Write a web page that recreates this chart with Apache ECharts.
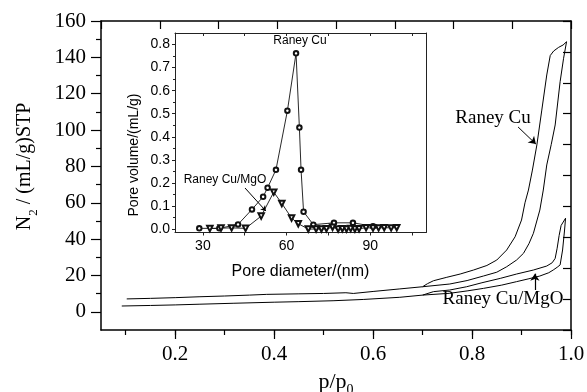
<!DOCTYPE html>
<html>
<head>
<meta charset="utf-8">
<script src="https://cdn.jsdelivr.net/npm/echarts@6/dist/echarts.min.js"></script>
<style>
  html, body { margin: 0; padding: 0; background: #fff; }
  #chart { width: 587px; height: 392px; }
</style>
</head>
<body>
<div id="chart"></div>
<script>
// N2 isotherms, [p/p0, volume mL/g STP]
const cuAdsorption = [
  [0.102, 7.1], [0.15, 7.4], [0.20, 7.8], [0.25, 8.3], [0.30, 8.7], [0.35, 9.2], [0.385, 9.6],
  [0.45, 9.9], [0.50, 10.1], [0.545, 10.5], [0.56, 10.1], [0.60, 11.2], [0.654, 12.6], [0.70, 13.8],
  [0.755, 15.3], [0.79, 17.2], [0.823, 19.7], [0.85, 21.8], [0.87, 24.8], [0.89, 28.5], [0.904, 32.2],
  [0.915, 37.5], [0.924, 43.2], [0.937, 56.0], [0.944, 67.0], [0.951, 80.8], [0.96, 92.0],
  [0.968, 102.8], [0.978, 126.6], [0.985, 139.5], [0.991, 148.6]
];
const cuDesorption = [
  [0.991, 148.6], [0.984, 146.8], [0.975, 145.5], [0.965, 143.5], [0.958, 141.0], [0.951, 130.3],
  [0.941, 111.0], [0.931, 91.8], [0.922, 78.0], [0.914, 67.0], [0.907, 60.0], [0.900, 50.5],
  [0.887, 41.3], [0.870, 34.0], [0.850, 28.5], [0.830, 25.5], [0.803, 23.0], [0.776, 20.8],
  [0.749, 19.0], [0.722, 17.1], [0.710, 15.5], [0.700, 13.8]
];
const mgoAdsorption = [
  [0.092, 3.2], [0.15, 3.5], [0.20, 3.8], [0.25, 4.2], [0.317, 4.7], [0.40, 5.3], [0.45, 5.6],
  [0.519, 6.1], [0.58, 6.8], [0.654, 8.0], [0.70, 9.2], [0.755, 10.2], [0.79, 11.5], [0.823, 12.9],
  [0.86, 14.7], [0.89, 16.6], [0.915, 18.2], [0.937, 19.7], [0.955, 21.5], [0.964, 23.0],
  [0.972, 24.5], [0.978, 25.8], [0.983, 34.0], [0.987, 45.0], [0.989, 51.5]
];
const mgoDesorption = [
  [0.989, 51.5], [0.986, 50.8], [0.980, 47.5], [0.976, 42.0], [0.972, 35.0], [0.968, 29.4],
  [0.962, 27.0], [0.951, 25.2], [0.924, 23.0], [0.890, 20.8], [0.857, 18.4], [0.820, 16.0],
  [0.789, 13.8], [0.755, 12.0], [0.722, 11.1], [0.700, 9.2]
];

// inset: pore size distribution
const cuDiameter = [28.7, 35.9, 42.6, 47.6, 51.6, 53.2, 56.2, 60.3, 63.4, 64.6, 65.2, 66.1, 69.6, 77.0, 83.8, 91.0];
const cuPoreVolume = [0.003, 0.003, 0.02, 0.085, 0.14, 0.179, 0.257, 0.513, 0.762, 0.44, 0.257, 0.075, 0.019, 0.027, 0.027, 0.012];
const mgoDiameter = [32.5, 36.5, 40.3, 45.3, 50.9, 55.4, 58.3, 61.8, 64.2, 67.8, 70.6, 72.5, 74.3, 76.5,
  78.5, 80.0, 81.5, 83.0, 84.5, 86.0, 88.5, 91.0, 93.0, 95.0, 97.5, 99.5];
const mgoPoreVolume = [0.002, 0.004, 0.005, 0.003, 0.056, 0.16, 0.111, 0.048, 0.023, 0.0, 0.0, 0.0, 0.001,
  0.008, 0.0, 0.001, 0.0, 0.002, 0.0, 0.001, 0.006, 0.004, 0.005, 0.006, 0.005, 0.006];

const W = 587, H = 392;
const SERIF = 'Liberation Serif';
const SANS = 'Liberation Sans';

// frames in pixels and the data range they show
const main = { l: 101, r: 571, t: 21, b: 330, x0: 0.05, x1: 1.0, y0: -10, y1: 160 };
const inset = { l: 175, r: 426, t: 33, b: 232.5, x0: 20, x1: 110, y0: -0.015, y1: 0.85 };

function gx(f, v) { return f.l + (v - f.x0) / (f.x1 - f.x0) * (f.r - f.l); }
function gy(f, v) { return f.b - (v - f.y0) / (f.y1 - f.y0) * (f.b - f.t); }
function box(f, xa, xb, ya, yb) {
  return {
    left: gx(f, xa), right: W - gx(f, xb), top: gy(f, yb), bottom: H - gy(f, ya),
    containLabel: false, outerBoundsMode: 'none'
  };
}
function zip(a, b) { return a.map((v, i) => [v, b[i]]); }

const frameLine = { show: true, onZero: false, lineStyle: { color: '#000', width: 1.5 } };
const insetLine = { show: true, onZero: false, lineStyle: { color: '#222', width: 1 } };
const noTick = { show: false };
const hidden = (g) => ({ type: 'value', gridIndex: g, show: false, min: 0, max: 1 });
const tickStyle = { color: '#000', width: 1.2 };

const chart = echarts.init(document.getElementById('chart'));

const option = {
  animation: false,
  backgroundColor: '#fff',
  grid: [
    box(main, 0.05, 1.0, -10, 160),   // 0 main data
    box(main, 0.05, 1.0, 0, 160),     // 1 main y ticks/labels
    box(main, 0.1, 1.0, -10, 160),    // 2 main x minor ticks
    box(main, 0.2, 1.0, -10, 160),    // 3 main x major ticks/labels
    box(inset, 20, 110, -0.015, 0.85),// 4 inset data
    box(inset, 30, 105, -0.015, 0.85),// 5 inset x ticks
    box(inset, 20, 110, 0, 0.8)       // 6 inset y ticks
  ],
  xAxis: [
    { type: 'value', gridIndex: 0, position: 'bottom', min: 0.05, max: 1.0,
      axisLine: frameLine, axisTick: noTick, axisLabel: { show: false }, splitLine: { show: false },
      name: '{b|p/p}{s|0}', nameLocation: 'middle', nameGap: 37,
      nameTextStyle: { rich: {
        b: { fontFamily: SERIF, fontSize: 22, lineHeight: 30, color: '#000' },
        s: { fontFamily: SERIF, fontSize: 14, lineHeight: 14, verticalAlign: 'bottom', color: '#000' }
      } } },
    { type: 'value', gridIndex: 0, position: 'top', min: 0, max: 8, interval: 1,
      axisLine: frameLine, axisTick: { inside: true, length: 8, lineStyle: tickStyle },
      axisLabel: { show: false }, splitLine: { show: false } },
    hidden(1),
    { type: 'value', gridIndex: 2, position: 'bottom', min: 0.1, max: 1.0, interval: 0.1,
      axisLine: { show: false, onZero: false }, axisTick: { length: 5, lineStyle: tickStyle },
      axisLabel: { show: false }, splitLine: { show: false } },
    { type: 'value', gridIndex: 3, position: 'bottom', min: 0.2, max: 1.0, interval: 0.2,
      axisLine: { show: false, onZero: false }, axisTick: { length: 9, lineStyle: tickStyle },
      axisLabel: { fontFamily: SERIF, fontSize: 21, color: '#000', margin: 14,
        formatter: (v) => v.toFixed(1) },
      splitLine: { show: false } },
    { type: 'value', gridIndex: 4, position: 'bottom', min: 20, max: 110,
      axisLine: insetLine, axisTick: noTick, axisLabel: { show: false }, splitLine: { show: false },
      name: 'Pore diameter/(nm)', nameLocation: 'middle', nameGap: 31,
      nameTextStyle: { fontFamily: SANS, fontSize: 16, color: '#000' } },
    { type: 'value', gridIndex: 4, position: 'top', min: 20, max: 110,
      axisLine: insetLine, axisTick: noTick, axisLabel: { show: false }, splitLine: { show: false } },
    { type: 'value', gridIndex: 5, position: 'bottom', min: 30, max: 105, interval: 15,
      axisLine: { show: false, onZero: false }, axisTick: { length: 3, lineStyle: { color: '#222' } },
      axisLabel: { fontFamily: SANS, fontSize: 14, color: '#000', margin: 7,
        formatter: (v) => (v % 30 === 0 ? String(v) : '') },
      splitLine: { show: false } },
    { type: 'value', gridIndex: 5, position: 'top', min: 30, max: 105, interval: 15,
      axisLine: { show: false, onZero: false }, axisTick: { inside: true, length: 3, lineStyle: { color: '#222' } },
      axisLabel: { show: false }, splitLine: { show: false } },
    hidden(6)
  ],
  yAxis: [
    { type: 'value', gridIndex: 0, position: 'left', min: -10, max: 160,
      axisLine: frameLine, axisTick: noTick, axisLabel: { show: false }, splitLine: { show: false } },
    { type: 'value', gridIndex: 0, position: 'right', min: 0, max: 10, interval: 1,
      axisLine: frameLine, axisTick: { inside: true, length: 8, lineStyle: tickStyle },
      axisLabel: { show: false }, splitLine: { show: false } },
    { type: 'value', gridIndex: 1, position: 'left', min: 0, max: 160, interval: 20,
      axisLine: { show: false, onZero: false }, axisTick: { length: 10, lineStyle: tickStyle },
      minorTick: { show: true, splitNumber: 2, length: 5, lineStyle: tickStyle },
      axisLabel: { fontFamily: SERIF, fontSize: 21, color: '#000', margin: 15 },
      splitLine: { show: false }, minorSplitLine: { show: false },
      name: '{b|N}{s|2}{b| / (mL/g)STP}', nameLocation: 'middle', nameGap: 61,
      nameTextStyle: { rich: {
        b: { fontFamily: SERIF, fontSize: 20, lineHeight: 30, color: '#000' },
        s: { fontFamily: SERIF, fontSize: 13, lineHeight: 13, verticalAlign: 'bottom', color: '#000' }
      } } },
    hidden(2),
    hidden(3),
    { type: 'value', gridIndex: 4, position: 'left', min: -0.015, max: 0.85,
      axisLine: insetLine, axisTick: noTick, axisLabel: { show: false }, splitLine: { show: false } },
    { type: 'value', gridIndex: 4, position: 'right', min: -0.015, max: 0.85,
      axisLine: insetLine, axisTick: noTick, axisLabel: { show: false }, splitLine: { show: false } },
    hidden(5),
    { type: 'value', gridIndex: 6, position: 'left', min: 0, max: 0.8, interval: 0.1,
      axisLine: { show: false, onZero: false }, axisTick: { length: 3, lineStyle: { color: '#222' } },
      minorTick: { show: true, splitNumber: 2, length: 2, lineStyle: { color: '#222' } },
      axisLabel: { fontFamily: SANS, fontSize: 14, color: '#000', margin: 5,
        formatter: (v) => v.toFixed(1) },
      splitLine: { show: false }, minorSplitLine: { show: false } }
  ],
  series: [
    { name: 'Raney Cu ads', type: 'line', xAxisIndex: 0, yAxisIndex: 0, data: cuAdsorption,
      symbol: 'none', lineStyle: { color: '#000', width: 1 },
      markLine: { silent: true, symbol: ['none', 'arrow'], symbolSize: 7, label: { show: false },
        lineStyle: { color: '#000', width: 1, type: 'solid' },
        data: [[{ coord: [0.893, 101.7] }, { coord: [0.929, 92.3] }]] } },
    { name: 'Raney Cu des', type: 'line', xAxisIndex: 0, yAxisIndex: 0, data: cuDesorption,
      symbol: 'none', lineStyle: { color: '#000', width: 1 } },
    { name: 'Raney Cu/MgO ads', type: 'line', xAxisIndex: 0, yAxisIndex: 0, data: mgoAdsorption,
      symbol: 'none', lineStyle: { color: '#000', width: 1 },
      markLine: { silent: true, symbol: ['none', 'arrow'], symbolSize: 7, label: { show: false },
        lineStyle: { color: '#000', width: 1.2, type: 'solid' },
        data: [[{ coord: [0.927, 12.0] }, { coord: [0.927, 21.0] }]] } },
    { name: 'Raney Cu/MgO des', type: 'line', xAxisIndex: 0, yAxisIndex: 0, data: mgoDesorption,
      symbol: 'none', lineStyle: { color: '#000', width: 1 } },
    { name: 'Raney Cu PSD', type: 'line', xAxisIndex: 5, yAxisIndex: 5, data: zip(cuDiameter, cuPoreVolume),
      symbol: 'emptyCircle', symbolSize: 4.5, itemStyle: { color: '#111', borderWidth: 0.8 },
      lineStyle: { color: '#111', width: 0.9 } },
    { name: 'Raney Cu/MgO PSD', type: 'line', xAxisIndex: 5, yAxisIndex: 5, data: zip(mgoDiameter, mgoPoreVolume),
      symbol: 'emptyTriangle', symbolRotate: 180, symbolSize: 5.5, itemStyle: { color: '#111', borderWidth: 0.8 },
      lineStyle: { color: '#111', width: 0.9 },
      markLine: { silent: true, symbol: ['none', 'arrow'], symbolSize: 5, label: { show: false },
        lineStyle: { color: '#000', width: 1, type: 'solid' },
        data: [[{ coord: [45.1, 0.178] }, { coord: [52.6, 0.078] }]] } }
  ],
  graphic: [
    { type: 'text', x: 493, y: 118,
      style: { text: 'Raney Cu', font: '19px "Liberation Serif"', fill: '#000',
        align: 'center', verticalAlign: 'middle', textAlign: 'center', textVerticalAlign: 'middle' } },
    { type: 'text', x: 503, y: 299,
      style: { text: 'Raney Cu/MgO', font: '19px "Liberation Serif"', fill: '#000',
        align: 'center', verticalAlign: 'middle', textAlign: 'center', textVerticalAlign: 'middle' } },
    { type: 'text', x: 300, y: 41,
      style: { text: 'Raney Cu', font: '12px "Liberation Sans"', fill: '#000',
        align: 'center', verticalAlign: 'middle', textAlign: 'center', textVerticalAlign: 'middle' } },
    { type: 'text', x: 225, y: 180,
      style: { text: 'Raney Cu/MgO', font: '12px "Liberation Sans"', fill: '#000',
        align: 'center', verticalAlign: 'middle', textAlign: 'center', textVerticalAlign: 'middle' } },
    { type: 'text', x: 134, y: 155, rotation: Math.PI / 2,
      style: { text: 'Pore volume/(mL/g)', font: '14px "Liberation Sans"', fill: '#000',
        align: 'center', verticalAlign: 'middle', textAlign: 'center', textVerticalAlign: 'middle' } }
  ]
};

chart.setOption(option);
</script>
</body>
</html>
